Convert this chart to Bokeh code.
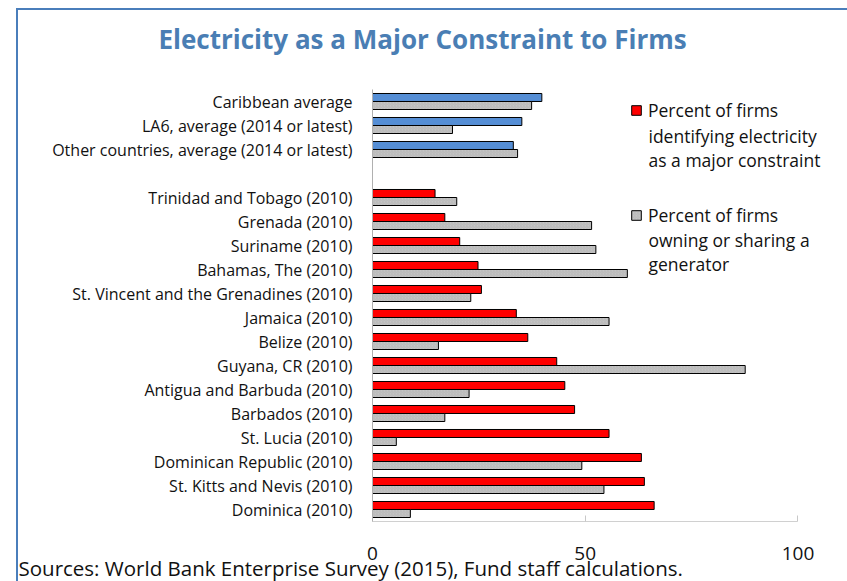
from bokeh.plotting import figure
from bokeh.models import (ColumnDataSource, Range1d, FixedTicker, Label, Legend, LegendItem, Title)
from bokeh.transform import dodge
from bokeh.embed import file_html
from bokeh.resources import INLINE

# ---------------- data (top to bottom) ----------------
categories = [
    "Caribbean average",
    "LA6, average (2014 or latest)",
    "Other countries, average (2014 or latest)",
    " ",
    "Trinidad and Tobago (2010)",
    "Grenada (2010)",
    "Suriname (2010)",
    "Bahamas, The (2010)",
    "St. Vincent and the Grenadines (2010)",
    "Jamaica (2010)",
    "Belize (2010)",
    "Guyana, CR (2010)",
    "Antigua and Barbuda (2010)",
    "Barbados (2010)",
    "St. Lucia (2010)",
    "Dominican Republic (2010)",
    "St. Kitts and Nevis (2010)",
    "Dominica (2010)",
]
groups = ["avg", "avg", "avg", None] + ["country"] * 14
pct_constraint = [39.8, 35.1, 33.1, None, 14.7, 17.0, 20.5, 24.8, 25.6, 33.8,
                  36.5, 43.3, 45.2, 47.5, 55.6, 63.2, 63.9, 66.2]
pct_generator = [37.4, 18.8, 34.1, None, 19.8, 51.5, 52.5, 59.9, 23.1, 55.6,
                 15.5, 87.6, 22.7, 17.0, 5.6, 49.2, 54.4, 8.9]
x_ticks = [0, 50, 100]

title_text = "Electricity as a Major Constraint to Firms"
legend_constraint = ["Percent of firms", "identifying electricity", "as a major constraint"]
legend_generator = ["Percent of firms", "owning or sharing a", "generator"]
source_text = "Sources: World Bank Enterprise Survey (2015), Fund staff calculations."

# ---------------- styles ----------------
RED = "#ff0000"
BLUE = "#558ed5"
GREY = "#c4c4c4"
FONT = "Open Sans"
TITLE_BLUE = "#4a7eb4"
BORDER_BLUE = "#4a7ebb"

rows = [i for i, g in enumerate(groups) if g is not None]
src = ColumnDataSource(dict(
    cat=[categories[i] for i in rows],
    constraint=[pct_constraint[i] for i in rows],
    generator=[pct_generator[i] for i in rows],
    color=[BLUE if groups[i] == "avg" else RED for i in rows],
))

W, H = 847, 581
FL, FT, FB = 372, 89, 521           # frame left / top / bottom in page px
p = figure(
    width=W, height=H,
    y_range=list(reversed(categories)),
    x_range=Range1d(0, 110),
    output_backend="svg", toolbar_location=None,
    min_border_left=FL, min_border_right=7,
    min_border_top=FT, min_border_bottom=H - FB,
)
p.title = None
p.border_fill_color = None
p.background_fill_color = "white"
p.outline_line_color = None
p.grid.visible = False
p.styles = {
    "background-image": f"linear-gradient({BORDER_BLUE},{BORDER_BLUE}), linear-gradient({BORDER_BLUE},{BORDER_BLUE})",
    "background-size": "2px 100%, 100% 2px",
    "background-position": "16px 8px, 16px 8px",
    "background-repeat": "no-repeat",
}

r_top = p.hbar(y=dodge("cat", 0.167, range=p.y_range), left=0, right="constraint",
               height=0.333, source=src, fill_color="color", line_color="black",
               line_width=1)
r_gen = p.hbar(y=dodge("cat", -0.167, range=p.y_range), left=0, right="generator",
               height=0.333, source=src, fill_color=GREY, line_color="black",
               line_width=1, hatch_pattern="right_diagonal_line",
               hatch_color="#9a9a9a", hatch_alpha=0.45, hatch_scale=3, hatch_weight=0.6)

# axes
xa = p.xaxis[0]
xa.ticker = FixedTicker(ticks=x_ticks)
xa.bounds = (0, 100)
xa.axis_line_color = "#d0d0d0"
xa.major_tick_line_color = "#c8c8c8"
xa.major_tick_in = 6
xa.major_tick_out = 0
xa.minor_tick_line_color = None
xa.major_label_standoff = 25
xa.major_label_text_font = FONT
xa.major_label_text_font_size = "19px"
xa.major_label_text_color = "#111111"

ya = p.yaxis[0]
ya.axis_line_color = "#b0b0b0"
ya.major_tick_line_color = None
ya.minor_tick_line_color = None
ya.major_label_standoff = 14
ya.major_label_text_font = FONT
ya.major_label_text_font_size = "16px"
ya.major_label_text_color = "#111111"

# title: spacer (closest to frame) + title above it
spacer = Title(text=" ", text_font_size="2px", standoff=27)
p.add_layout(spacer, "above")
title = Title(text=title_text, align="left", offset=158 - FL, vertical_align="top",
              standoff=0, text_font=FONT, text_font_style="bold",
              text_font_size="26px", text_color=TITLE_BLUE)
p.add_layout(title, "above")

# sources note (below panel, after the axis)
note = Title(text=source_text, align="left", offset=18 - FL, vertical_align="top",
             standoff=-18, text_font=FONT, text_font_style="normal",
             text_font_size="20.5px", text_color="#111111")
p.add_layout(note, "below")

# legend
item_h = 24
legend = Legend(items=[
    LegendItem(label=legend_constraint[0], renderers=[r_top], index=len(rows) - 1),
    LegendItem(label=legend_generator[0], renderers=[r_gen], index=0),
], location=(630 - FL, FB - (215 + 12)))
legend.padding = 0
legend.margin = 0
legend.spacing = (215 - 110) - item_h
legend.label_height = item_h
legend.glyph_height = 12
legend.glyph_width = 12
legend.label_standoff = 6
legend.border_line_color = None
legend.background_fill_alpha = 0
legend.label_text_font = FONT
legend.label_text_font_size = "17.5px"
legend.label_text_color = "#111111"
p.add_layout(legend, "center")

for txt, py in [(legend_constraint[1], 135), (legend_constraint[2], 159),
                (legend_generator[1], 239), (legend_generator[2], 263)]:
    p.add_layout(Label(x=648 - FL, y=FB - py, x_units="screen", y_units="screen",
                       text=txt, text_font=FONT, text_font_size="17.5px",
                       text_color="#111111", text_baseline="middle"))

open("out.html", "w").write(file_html(p, INLINE))
